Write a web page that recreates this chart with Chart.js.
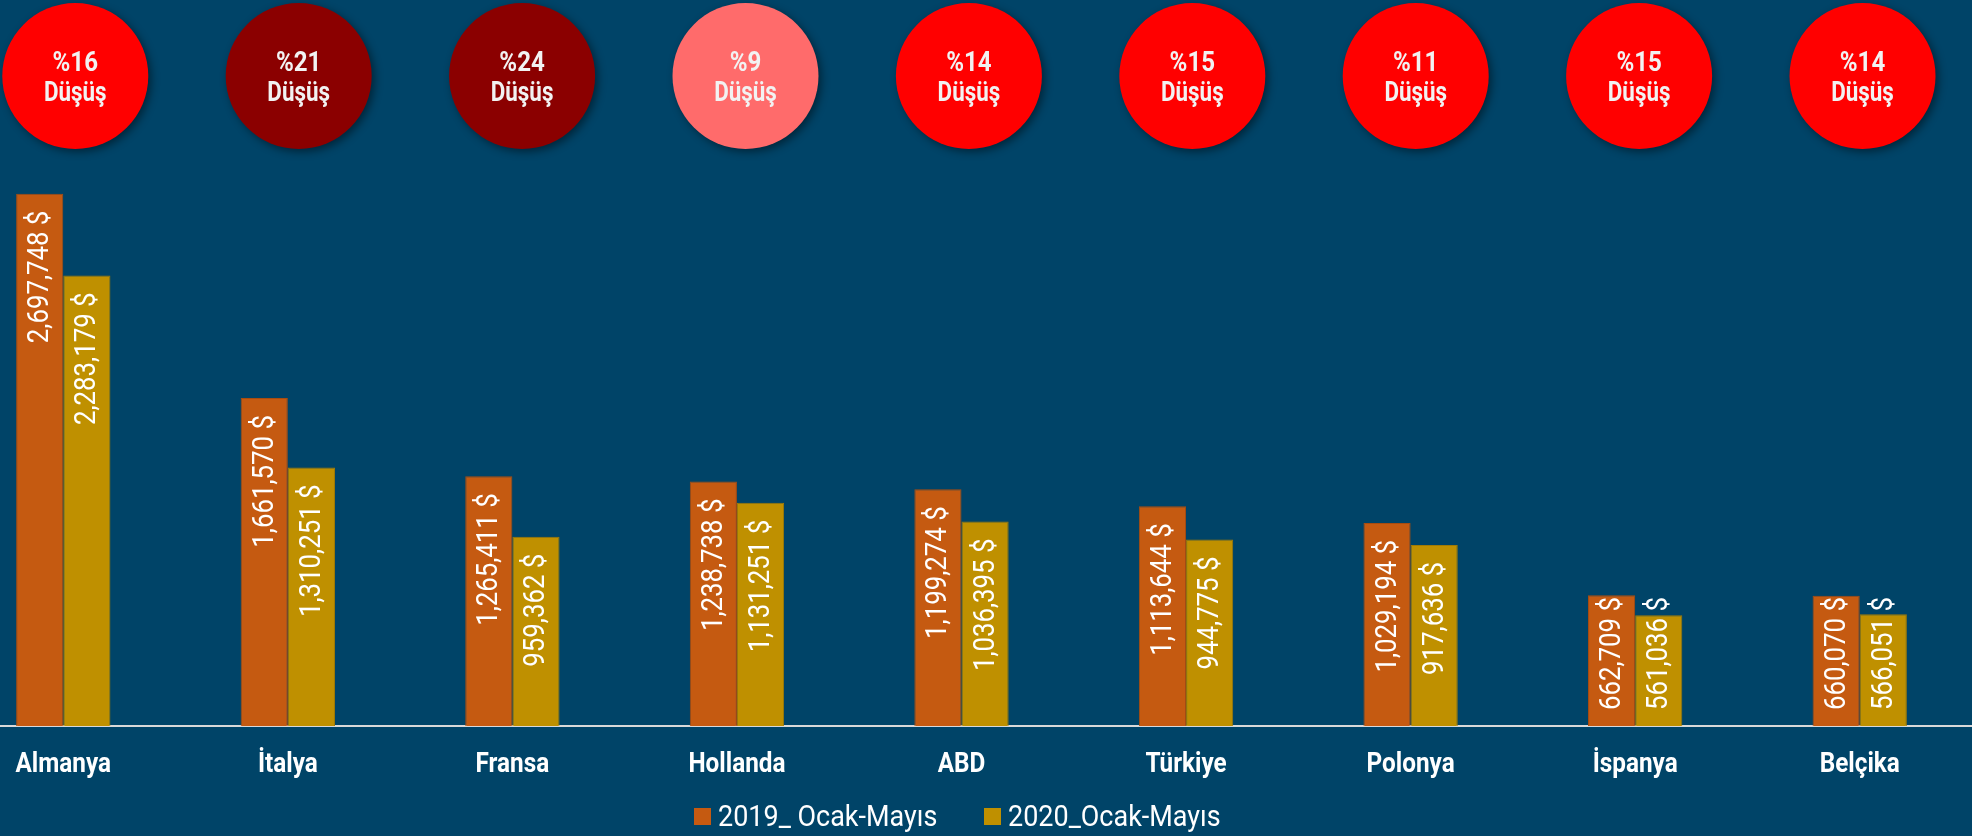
<!DOCTYPE html>
<html>
<head>
<meta charset="utf-8">
<script src="https://cdn.jsdelivr.net/npm/chart.js@4.4.1/dist/chart.umd.min.js"></script>
<style>
  html, body { margin: 0; padding: 0; background: #004468; overflow: hidden; }
  body { width: 1972px; height: 836px; position: relative; }
  #chart { position: absolute; left: -49px; top: 0; }
  .leg { position: absolute; top: 800px; height: 32px; display: flex; align-items: center; color: #fff; white-space: nowrap; }
  .leg i { display: inline-block; width: 17px; height: 17px; margin-right: 7px; }
  .leg span { display: inline-block; font-family: Roboto, sans-serif; font-size: 29px; line-height: 32px;
              transform: scaleX(0.93); transform-origin: left center; }
</style>
</head>
<body>
<canvas id="chart" width="2021" height="836"></canvas>
<div id="legend"></div>
<script>
// ülkeler ve değerler (USD)
const ulkeler = ["Almanya", "İtalya", "Fransa", "Hollanda", "ABD", "Türkiye", "Polonya", "İspanya", "Belçika"];
const seri2019 = [2697748, 1661570, 1265411, 1238738, 1199274, 1113644, 1029194, 662709, 660070];
const seri2020 = [2283179, 1310251, 959362, 1131251, 1036395, 944775, 917636, 561036, 566051];
const dusus = [16, 21, 24, 9, 14, 15, 11, 15, 14];
const daireRenk = ["#FF0000", "#8B0000", "#8B0000", "#FF6B6B", "#FF0000", "#FF0000", "#FF0000", "#FF0000", "#FF0000"];
const seriAdlari = ["2019_ Ocak-Mayıs", "2020_Ocak-Mayıs"];
const seriRenk = ["#C55A11", "#BF9000"];

const FONT = "Roboto, sans-serif";
const fmt = v => v.toLocaleString("en-US") + " $";

// yatay sıkıştırılmış yazı (dar font yok)
function darYazi(ctx, txt, x, y, sx) {
  ctx.save();
  ctx.translate(x, y);
  ctx.scale(sx, 1);
  ctx.fillText(txt, 0, 0);
  ctx.restore();
}

// bar üstü dikey etiketler
const etiketPlugin = {
  id: "etiketler",
  afterDatasetsDraw(chart) {
    const ctx = chart.ctx;
    const sx = 0.86;
    ctx.save();
    ctx.font = "30px " + FONT;
    ctx.fillStyle = "#FFFFFF";
    ctx.textBaseline = "middle";
    ctx.textAlign = "left";
    chart.data.datasets.forEach((ds, di) => {
      chart.getDatasetMeta(di).data.forEach((bar, i) => {
        const txt = fmt(ds.data[i]);
        const w = ctx.measureText(txt).width * sx;
        let start = bar.y + 17 + w;
        if (start > bar.base - 16) start = bar.base - 16;
        ctx.save();
        ctx.translate(bar.x + 1, start);
        ctx.rotate(-Math.PI / 2);
        darYazi(ctx, txt, 0, 0, sx);
        ctx.restore();
      });
    });
    ctx.restore();
  }
};

// kategori adları
const eksenPlugin = {
  id: "eksen",
  afterDraw(chart) {
    const ctx = chart.ctx;
    const x = chart.scales.x;
    ctx.save();
    ctx.fillStyle = "#FFFFFF";
    ctx.font = "bold 27px " + FONT;
    ctx.textAlign = "center";
    ctx.textBaseline = "alphabetic";
    ulkeler.forEach((u, i) => darYazi(ctx, u, x.getPixelForValue(i), chart.chartArea.bottom + 46, 0.9));
    ctx.restore();
  }
};

// üstteki düşüş daireleri
const dairePlugin = {
  id: "daireler",
  afterDraw(chart) {
    const ctx = chart.ctx;
    const x = chart.scales.x;
    dusus.forEach((d, i) => {
      const cx = x.getPixelForValue(i) + 12 - 1.15 * i, cy = 76, r = 73;
      ctx.save();
      ctx.shadowColor = "rgba(0,0,0,0.45)";
      ctx.shadowBlur = 8;
      ctx.shadowOffsetX = 3;
      ctx.shadowOffsetY = 3;
      ctx.beginPath();
      ctx.arc(cx, cy, r, 0, Math.PI * 2);
      ctx.fillStyle = daireRenk[i];
      ctx.fill();
      ctx.restore();
      ctx.save();
      ctx.fillStyle = "#F2F2F2";
      ctx.textAlign = "center";
      ctx.textBaseline = "alphabetic";
      ctx.font = "bold 28px " + FONT;
      darYazi(ctx, "%" + d, cx, 71, 0.86);
      darYazi(ctx, "Düşüş", cx, 101, 0.8);
      ctx.restore();
    });
  }
};

const ctx = document.getElementById("chart").getContext("2d");
const chart = new Chart(ctx, {
  type: "bar",
  data: {
    labels: ulkeler,
    datasets: [
      { label: seriAdlari[0], data: seri2019, backgroundColor: seriRenk[0], borderColor: "#A84C10", borderWidth: 1 },
      { label: seriAdlari[1], data: seri2020, backgroundColor: seriRenk[1], borderColor: "#A07A05", borderWidth: 1 }
    ]
  },
  options: {
    responsive: false,
    animation: false,
    categoryPercentage: 0.42,
    barPercentage: 1.0,
    layout: { padding: { top: 134, bottom: 110, left: 0, right: 0 } },
    scales: {
      x: {
        grid: { display: false, drawTicks: false },
        border: { display: true, color: "#D9D9D9", width: 2 },
        ticks: { display: false }
      },
      y: { display: false, min: 0, max: 3000000 }
    },
    plugins: { legend: { display: false }, tooltip: { enabled: false } }
  },
  plugins: [etiketPlugin, eksenPlugin, dairePlugin]
});

// lejant
const legEl = document.getElementById("legend");
const legX = [694, 984];
seriAdlari.forEach((ad, i) => {
  const d = document.createElement("div");
  d.className = "leg";
  d.style.left = legX[i] + "px";
  d.innerHTML = '<i style="background:' + seriRenk[i] + '"></i><span>' + ad + '</span>';
  legEl.appendChild(d);
});
</script>
</body>
</html>
